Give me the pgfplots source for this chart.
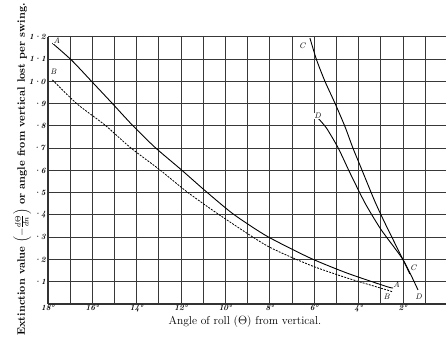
\documentclass[border=0pt]{standalone}
\usepackage{pgfplots}
\pgfplotsset{compat=1.18}
\begin{document}
\begin{tikzpicture}
\begin{axis}[
  at={(0pt,0pt)}, anchor=south west,
  scale only axis, width=398pt, height=267pt,
  x dir=reverse, xmin=0.07, xmax=18, ymin=0, ymax=12,
  axis x line*=bottom, axis y line*=left,
  axis line style={-, line width=1.2pt, color=black!80},
  xtick={2,4,...,18}, minor xtick={1,3,...,17},
  xticklabels={\textbf{\textit{2\textdegree}},\textbf{\textit{4\textdegree}},\textbf{\textit{6\textdegree}},\textbf{\textit{8\textdegree}},\textbf{\textit{10\textdegree}},\textbf{\textit{12\textdegree}},\textbf{\textit{14\textdegree}},\textbf{\textit{16\textdegree}},\textbf{\textit{18\textdegree}}},
  ytick={1,2,...,12},
  yticklabels={\textbf{\textit{\textperiodcentered1}},\textbf{\textit{\textperiodcentered2}},\textbf{\textit{\textperiodcentered3}},\textbf{\textit{\textperiodcentered4}},\textbf{\textit{\textperiodcentered5}},\textbf{\textit{\textperiodcentered6}},\textbf{\textit{\textperiodcentered7}},\textbf{\textit{\textperiodcentered8}},\textbf{\textit{\textperiodcentered9}},\textbf{\textit{1\textperiodcentered0}},\textbf{\textit{1\textperiodcentered1}},\textbf{\textit{1\textperiodcentered2}}},
  major tick length=0pt, minor tick length=0pt,
  tick label style={font=\fontsize{8}{9}\selectfont},
  xticklabel style={inner sep=1pt},
  yticklabel style={inner sep=2pt},
  grid=both,
  major grid style={line width=1pt, color=black!78},
  minor grid style={line width=1pt, color=black!78},
  xlabel={Angle of roll ($\Theta$) from vertical.},
  xlabel style={at={(rel axis cs:0.495,0)}, anchor=center, yshift=-18pt, font=\fontsize{11.5}{13}\selectfont},
  ylabel={Extinction value $\left(-\frac{d\Theta}{dn}\right)$ or angle from vertical lost per swing.},
  ylabel style={at={(rel axis cs:-0.065,1.127)}, anchor=east, font=\bfseries\fontsize{10.8}{12}\selectfont, inner sep=0pt},
  clip=false,
]
% Curve A (solid)
\addplot[black, line width=0.9pt, smooth, tension=0.4] coordinates {
 (17.8,11.72) (16.93,10.95) (16.03,10.0) (15.09,9.0) (14.2,8.04) (13.18,7.04)
 (11.98,6.02) (10.93,5.1) (9.65,4.04) (8.14,3.05) (6.2,2.07) (4.53,1.39)
 (2.73,0.78) (2.45,0.72)};
% Curve B (dashed)
\addplot[black, line width=0.8pt, smooth, tension=0.4, dash pattern=on 2pt off 1.2pt] coordinates {
 (17.8,10.07) (16.7,9.0) (15.43,8.04) (14.3,7.04) (12.95,6.02) (11.75,5.05)
 (10.33,4.04) (8.14,2.62) (6.2,1.75) (4.53,1.17) (2.73,0.63) (2.5,0.55)};
% Curve C (solid)
\addplot[black, line width=0.9pt, smooth, tension=0.4] coordinates {
 (6.2,11.95) (5.9,10.97) (5.52,10.0) (5.07,9.02) (4.62,7.97) (4.26,7.0)
 (3.95,6.25) (3.27,4.6) (2.74,3.47) (2.0,1.98) (1.7,1.35)};
% Curve D (solid)
\addplot[black, line width=0.9pt, smooth, tension=0.4] coordinates {
 (5.84,8.36) (5.45,7.9) (4.92,7.0) (4.4,5.9) (3.72,4.54) (3.0,3.35)
 (2.0,1.98) (1.33,0.63)};
\node[font=\fontsize{8}{9}\selectfont\itshape, fill=white, inner sep=0.5pt] at (axis cs:17.6,11.82) {A};
\node[font=\fontsize{8}{9}\selectfont\itshape, fill=white, inner sep=0.5pt] at (axis cs:17.76,10.44) {B};
\node[font=\fontsize{8}{9}\selectfont\itshape, fill=white, inner sep=0.5pt] at (axis cs:6.55,11.6) {C};
\node[font=\fontsize{8}{9}\selectfont\itshape, fill=white, inner sep=0.5pt] at (axis cs:5.85,8.45) {D};
\node[font=\fontsize{8}{9}\selectfont\itshape, inner sep=0.5pt] at (axis cs:2.3,0.85) {A};
\node[font=\fontsize{8}{9}\selectfont\itshape, fill=white, inner sep=0.5pt] at (axis cs:2.74,0.33) {B};
\node[font=\fontsize{8}{9}\selectfont\itshape, fill=white, inner sep=0.5pt] at (axis cs:1.55,1.65) {C};
\node[font=\fontsize{8}{9}\selectfont\itshape, fill=white, inner sep=0.5pt] at (axis cs:1.3,0.33) {D};
\end{axis}
\pgfresetboundingbox
\useasboundingbox (-48pt,-33pt) rectangle (398pt,304pt);
\end{tikzpicture}
\end{document}
